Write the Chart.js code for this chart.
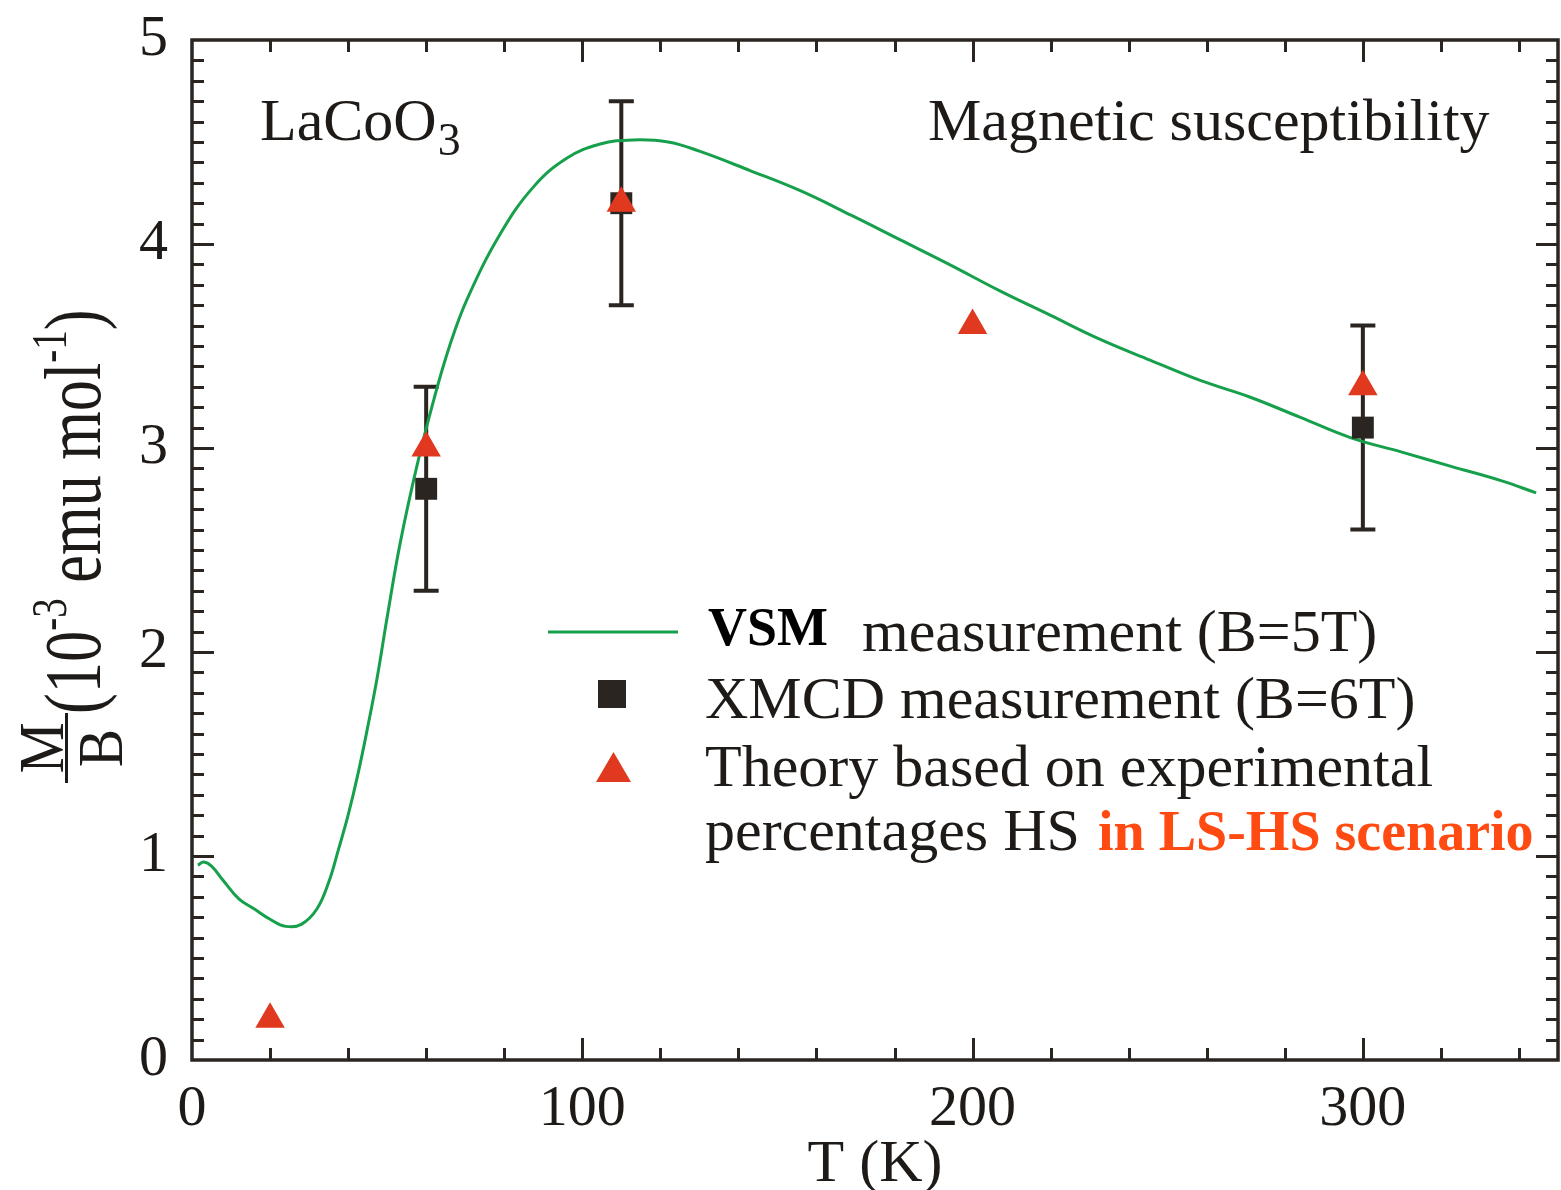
<!DOCTYPE html>
<html>
<head>
<meta charset="utf-8">
<title>LaCoO3 magnetic susceptibility</title>
<script src="https://cdn.jsdelivr.net/npm/chart.js@4.4.1/dist/chart.umd.min.js"></script>
<style>
  html, body { margin: 0; padding: 0; background: #ffffff; }
  #wrap { width: 1561px; height: 1190px; position: relative; }
  canvas { display: block; }
</style>
</head>
<body>
<div id="wrap"><canvas id="chart" width="1561" height="1190"></canvas></div>
<script>
// VSM curve, M/B in 10^-3 emu/mol versus temperature (K)
const vsmT = [1.5, 3, 5, 8, 12, 16, 20, 24, 28, 32, 35, 37.5, 40, 42.5, 45, 47.5, 50, 53.3, 57.6, 62, 66, 70.5, 79, 87.5, 96, 104.6, 113, 122, 130, 143, 156, 169, 181.5, 194, 207, 220, 233, 245.6, 258.5, 271, 284, 297, 310, 322.6, 335.4, 344.4];
const vsmM = [0.955, 0.97, 0.95, 0.88, 0.79, 0.74, 0.69, 0.655, 0.665, 0.74, 0.87, 1.03, 1.2, 1.4, 1.63, 1.88, 2.17, 2.53, 2.91, 3.24, 3.5, 3.73, 4.05, 4.28, 4.42, 4.49, 4.51, 4.50, 4.455, 4.36, 4.26, 4.14, 4.02, 3.90, 3.77, 3.65, 3.53, 3.43, 3.33, 3.25, 3.15, 3.05, 2.98, 2.91, 2.84, 2.78];

// XMCD points with error limits
const xmcdT = [60, 110, 300];
const xmcdM = [2.8, 4.2, 3.1];
const xmcdLow = [2.3, 3.7, 2.6];
const xmcdHigh = [3.3, 4.7, 3.6];

// Theory (experimental HS percentages, LS-HS scenario)
const theoryT = [20, 60, 110, 200, 300];
const theoryM = [0.2, 3.0, 4.2, 3.6, 3.3];

// Axis ranges and tick labels
const xRange = [0, 350];
const yRange = [0, 5];
const xTickLabels = [0, 100, 200, 300];
const yTickLabels = [0, 1, 2, 3, 4, 5];

const INK = '#2a2521';
const GREEN = '#16a04b';
const RED = '#e0391f';
const ORANGE = '#ff4a12';
const SERIF = '"Liberation Serif", "DejaVu Serif", serif';

const toPoints = (xs, ys) => xs.map((x, i) => ({ x: x, y: ys[i] }));

// frame with inward major/minor ticks on all four sides
const framePlugin = {
  id: 'frame',
  afterDraw(chart) {
    const { ctx, chartArea: a, scales } = chart;
    const xs = scales.x, ys = scales.y;
    ctx.save();
    ctx.strokeStyle = INK;
    ctx.lineWidth = 3;
    ctx.beginPath();
    // x ticks every 20 K, major every 100 K
    for (let t = xRange[0] + 20; t < xRange[1]; t += 20) {
      const px = Math.round(xs.getPixelForValue(t)) + 0.5;
      const len = xTickLabels.includes(t) ? 22 : 12;
      ctx.moveTo(px, a.bottom); ctx.lineTo(px, a.bottom - len);
      ctx.moveTo(px, a.top); ctx.lineTo(px, a.top + len);
    }
    // y ticks every 0.1, major every 1
    for (let i = 1; i < 50; i++) {
      const py = Math.round(ys.getPixelForValue(i / 10)) + 0.5;
      const len = (i % 10 === 0) ? 22 : 12;
      ctx.moveTo(a.left, py); ctx.lineTo(a.left + len, py);
      ctx.moveTo(a.right, py); ctx.lineTo(a.right - len, py);
    }
    ctx.stroke();
    ctx.lineWidth = 3.5;
    ctx.strokeRect(a.left, a.top, a.right - a.left, a.bottom - a.top);
    ctx.restore();
  }
};

// vertical error bars for the XMCD points
const errorBarPlugin = {
  id: 'errorBars',
  beforeDatasetsDraw(chart) {
    const { ctx, scales } = chart;
    ctx.save();
    ctx.strokeStyle = INK;
    ctx.lineWidth = 4;
    ctx.beginPath();
    xmcdT.forEach((t, i) => {
      const px = scales.x.getPixelForValue(t);
      const lo = scales.y.getPixelForValue(xmcdLow[i]);
      const hi = scales.y.getPixelForValue(xmcdHigh[i]);
      ctx.moveTo(px, lo); ctx.lineTo(px, hi);
      ctx.moveTo(px - 12.5, lo); ctx.lineTo(px + 12.5, lo);
      ctx.moveTo(px - 12.5, hi); ctx.lineTo(px + 12.5, hi);
    });
    ctx.stroke();
    ctx.restore();
  }
};

// texts: panel labels, axis titles, legend
const textPlugin = {
  id: 'texts',
  afterDraw(chart) {
    const { ctx, chartArea: a } = chart;
    ctx.save();
    ctx.fillStyle = '#1e1a17';
    ctx.textBaseline = 'alphabetic';
    ctx.textAlign = 'left';

    // LaCoO3
    ctx.font = '60px ' + SERIF;
    ctx.fillText('LaCoO', 260, 140);
    const w = ctx.measureText('LaCoO').width;
    ctx.font = '46px ' + SERIF;
    ctx.fillText('3', 260 + w + 1, 155);

    // panel title
    ctx.font = '60px ' + SERIF;
    ctx.fillText('Magnetic susceptibility', 928, 140);

    // x-axis title
    ctx.textAlign = 'center';
    ctx.font = '60px ' + SERIF;
    ctx.fillText('T (K)', (a.left + a.right) / 2, 1181);
    ctx.textAlign = 'left';

    // y-axis title, rotated
    ctx.save();
    ctx.translate(100, 790);
    ctx.rotate(-Math.PI / 2);
    ctx.font = '64px ' + SERIF;
    ctx.textAlign = 'center';
    ctx.save(); ctx.translate(42, 0); ctx.scale(0.9, 1);
    ctx.fillText('M', 0, -37);
    ctx.fillText('B', 0, 22);
    ctx.restore();
    ctx.fillRect(7, -35, 70, 3);
    ctx.textAlign = 'left';
    ctx.save();
    ctx.translate(76, 0);
    ctx.scale(0.78, 1);
    const parts = [
      ['(10', 80, 0], ['-3', 50, -34], [' emu mol', 80, 0], ['-1', 50, -34], [')', 80, 0]
    ];
    let u = 0;
    parts.forEach(([s, size, dv]) => {
      ctx.font = size + 'px ' + SERIF;
      ctx.fillText(s, u, dv);
      u += ctx.measureText(s).width;
    });
    ctx.restore();
    ctx.restore();

    // legend
    ctx.strokeStyle = GREEN;
    ctx.lineWidth = 3;
    ctx.beginPath(); ctx.moveTo(548, 632); ctx.lineTo(678, 632); ctx.stroke();
    ctx.font = 'bold 54px ' + SERIF;
    ctx.fillStyle = '#000000';
    ctx.fillText('VSM', 708, 645);
    ctx.fillStyle = '#1e1a17';
    ctx.font = '60px ' + SERIF;
    ctx.fillText('measurement (B=5T)', 862, 651);

    ctx.fillStyle = INK;
    ctx.fillRect(598, 680, 28, 28);
    ctx.fillStyle = '#1e1a17';
    ctx.fillText('XMCD measurement (B=6T)', 705, 718);

    ctx.fillStyle = RED;
    ctx.beginPath();
    ctx.moveTo(613.5, 752); ctx.lineTo(631, 782); ctx.lineTo(596, 782); ctx.closePath();
    ctx.fill();
    ctx.fillStyle = '#1e1a17';
    ctx.fillText('Theory based on experimental', 705, 786);
    ctx.fillText('percentages HS', 705, 850);
    ctx.font = 'bold 56px ' + SERIF;
    ctx.fillStyle = ORANGE;
    ctx.fillText('in LS-HS scenario', 1098, 850);
    ctx.restore();
  }
};

new Chart(document.getElementById('chart'), {
  type: 'scatter',
  data: {
    datasets: [
      {
        label: 'Theory',
        data: toPoints(theoryT, theoryM),
        pointStyle: 'triangle',
        pointRadius: 17,
        pointHoverRadius: 17,
        backgroundColor: RED,
        borderColor: RED,
        pointBorderWidth: 0,
        order: 0
      },
      {
        label: 'XMCD',
        data: toPoints(xmcdT, xmcdM),
        pointStyle: 'rect',
        pointRadius: 15.5,
        pointHoverRadius: 15.5,
        backgroundColor: INK,
        borderColor: INK,
        pointBorderWidth: 0,
        order: 1
      },
      {
        type: 'line',
        label: 'VSM',
        data: toPoints(vsmT, vsmM),
        showLine: true,
        borderColor: GREEN,
        borderWidth: 3,
        pointRadius: 0,
        pointHoverRadius: 0,
        fill: false,
        tension: 0.4,
        order: 2
      }
    ]
  },
  options: {
    responsive: false,
    animation: false,
    devicePixelRatio: 1,
    layout: { autoPadding: false, padding: { top: 40, right: 3, left: 0, bottom: 0 } },
    plugins: { legend: { display: false }, tooltip: { enabled: false }, title: { display: false } },
    events: [],
    scales: {
      x: {
        type: 'linear',
        min: xRange[0],
        max: xRange[1],
        grid: { display: false, drawTicks: false },
        border: { display: false },
        afterFit(scale) {
          scale.height = 130;
          scale.paddingLeft = 0; scale.paddingRight = 0;
        },
        afterBuildTicks(scale) { scale.ticks = xTickLabels.map(v => ({ value: v })); },
        ticks: {
          padding: 15,
          maxRotation: 0,
          color: '#1e1a17',
          font: { family: SERIF, size: 58 },
          callback: v => String(v)
        }
      },
      y: {
        type: 'linear',
        min: yRange[0],
        max: yRange[1],
        grid: { display: false, drawTicks: false },
        border: { display: false },
        afterFit(scale) {
          scale.width = 192;
          scale.paddingTop = 0; scale.paddingBottom = 0;
        },
        afterBuildTicks(scale) { scale.ticks = yTickLabels.map(v => ({ value: v })); },
        ticks: {
          padding: 24,
          color: '#1e1a17',
          font: { family: SERIF, size: 58 },
          callback: v => String(v)
        }
      }
    }
  },
  plugins: [errorBarPlugin, framePlugin, textPlugin]
});
</script>
</body>
</html>
